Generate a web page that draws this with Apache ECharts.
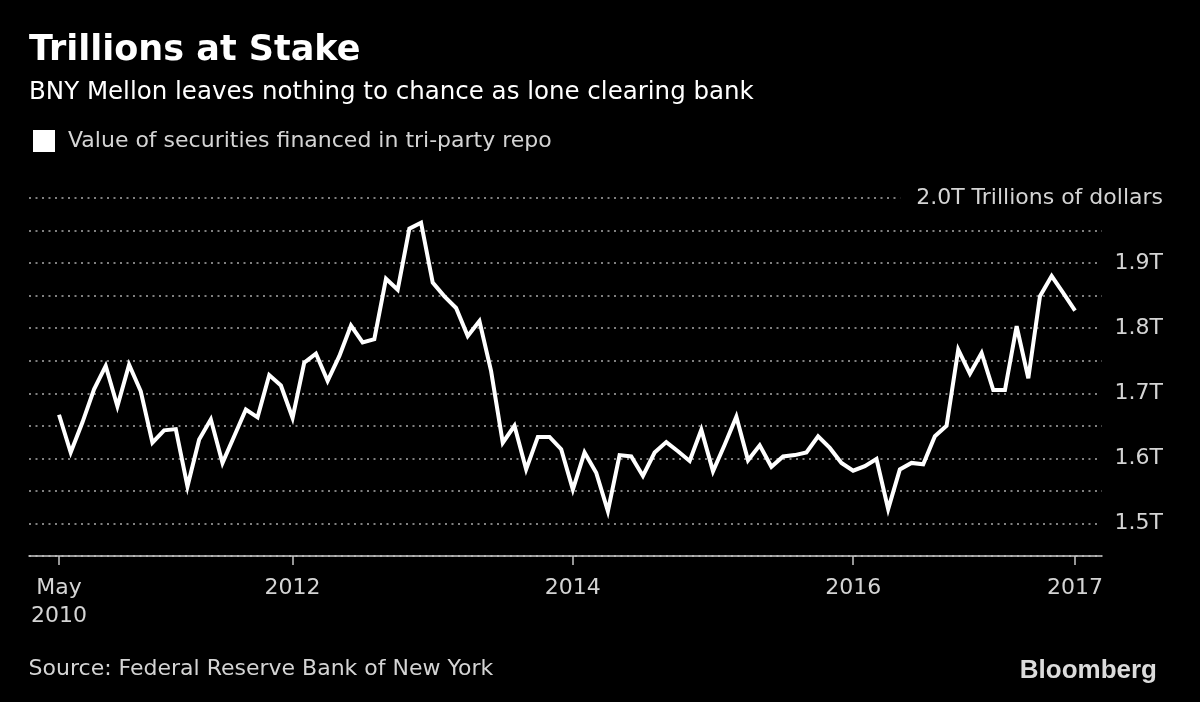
<!DOCTYPE html>
<html><head><meta charset="utf-8">
<script src="https://cdn.jsdelivr.net/npm/echarts@6/dist/echarts.min.js"></script>
<style>html,body{margin:0;padding:0;background:#000;}#c{width:1200px;height:702px;}</style>
</head><body><div id="c"></div>
<script>
const titleText = 'Trillions at Stake';
const subtitleText = 'BNY Mellon leaves nothing to chance as lone clearing bank';
const seriesName = 'Value of securities financed in tri-party repo';
const sourceText = 'Source: Federal Reserve Bank of New York';
const brandText = 'Bloomberg';
const unitText = 'Trillions of dollars';

// Monthly values, May 2010 .. Aug 2017, trillions of dollars
const values = [
  1.667, 1.609, 1.655, 1.706, 1.742, 1.680, 1.744, 1.703, 1.624, 1.643,
  1.645, 1.557, 1.629, 1.660, 1.593, 1.634, 1.675, 1.663, 1.728, 1.712,
  1.662, 1.747, 1.761, 1.719, 1.757, 1.804, 1.778, 1.783, 1.876, 1.859,
  1.953, 1.962, 1.870, 1.849, 1.831, 1.788, 1.811, 1.734, 1.624, 1.650,
  1.583, 1.633, 1.633, 1.614, 1.552, 1.609, 1.578, 1.519, 1.605, 1.603,
  1.573, 1.609, 1.625, 1.611, 1.596, 1.644, 1.580, 1.621, 1.664, 1.597,
  1.620, 1.587, 1.603, 1.605, 1.609, 1.634, 1.616, 1.593, 1.581, 1.588,
  1.599, 1.522, 1.583, 1.593, 1.591, 1.634, 1.650, 1.767, 1.730, 1.762,
  1.705, 1.705, 1.803, 1.723, 1.849, 1.880, 1.854, 1.827
];

// x tick positions (month index from May 2010) and their labels
const xTickIndex = [0, 20, 44, 68, 87];
const xTickLabels = ['May\n2010', '2012', '2014', '2016', '2017'];

// y labels (trillions)
const yLabelValues = [1.5, 1.6, 1.7, 1.8, 1.9, 2.0];

const FONT = 'DejaVu Sans';
const chart = echarts.init(document.getElementById('c'), null, {renderer: 'canvas'});

const option = {
  backgroundColor: '#000',
  animation: false,
  title: {
    text: titleText,
    subtext: subtitleText,
    left: 29, top: 32.5, padding: 0, itemGap: 11,
    textStyle: {color: '#fff', fontFamily: FONT, fontWeight: 'bold', fontSize: 35, lineHeight: 36},
    subtextStyle: {color: '#fff', fontFamily: FONT, fontSize: 24.5, lineHeight: 26}
  },
  legend: {
    left: 33, top: 130, padding: 0,
    icon: 'rect', itemWidth: 22, itemHeight: 22,
    data: [seriesName],
    textStyle: {color: '#d4d4d4', fontFamily: FONT, fontSize: 22, padding: [0, 0, 0, 8]}
  },
  grid: {left: 29, right: 98, top: 198, bottom: 146, containLabel: false, outerBoundsMode: 'none'},
  xAxis: {
    type: 'value',
    min: -2.57, max: 89.31,
    splitLine: {show: false},
    axisLine: {show: true, lineStyle: {color: '#c8c8c8', width: 1.5}},
    axisTick: {show: true, customValues: xTickIndex, length: 9, lineStyle: {color: '#c8c8c8', width: 1.5}},
    axisLabel: {
      customValues: xTickIndex,
      formatter: function (v) {
        const k = xTickIndex.indexOf(Math.round(v));
        return k >= 0 ? xTickLabels[k] : '';
      },
      color: '#d4d4d4', fontFamily: FONT, fontSize: 22, lineHeight: 28, margin: 18
    }
  },
  yAxis: {
    type: 'value',
    position: 'right',
    min: 1.45, max: 2.0, interval: 0.05,
    axisLine: {show: false},
    axisTick: {show: false},
    splitLine: {show: true, lineStyle: {color: '#808080', width: 2, type: [2, 4.5]}},
    axisLabel: {
      align: 'right', margin: 61,
      color: '#d4d4d4', fontFamily: FONT, fontSize: 22,
      backgroundColor: '#000', padding: [2, 0, 2, 16],
      formatter: function (v) {
        const k = Math.round(v * 100);
        const hit = yLabelValues.find(function (y) { return Math.round(y * 100) === k; });
        if (hit === undefined) return '';
        const s = hit.toFixed(1) + 'T';
        return k === 200 ? s + ' ' + unitText : s;
      }
    }
  },
  graphic: [
    {type: 'text', left: 28.6, top: 658, style: {text: sourceText, fill: '#d4d4d4', font: '22px "DejaVu Sans"'}},
    {type: 'text', right: 43, top: 658, style: {text: brandText, fill: '#dcdcdc', font: 'bold 26px "Liberation Sans"'}}
  ],
  series: [{
    name: seriesName,
    type: 'line',
    data: values.map(function (v, i) { return [i, v]; }),
    showSymbol: false,
    color: '#fff',
    lineStyle: {color: '#fff', width: 4, join: 'miter', miterLimit: 5}
  }]
};
chart.setOption(option);
</script>
</body></html>
